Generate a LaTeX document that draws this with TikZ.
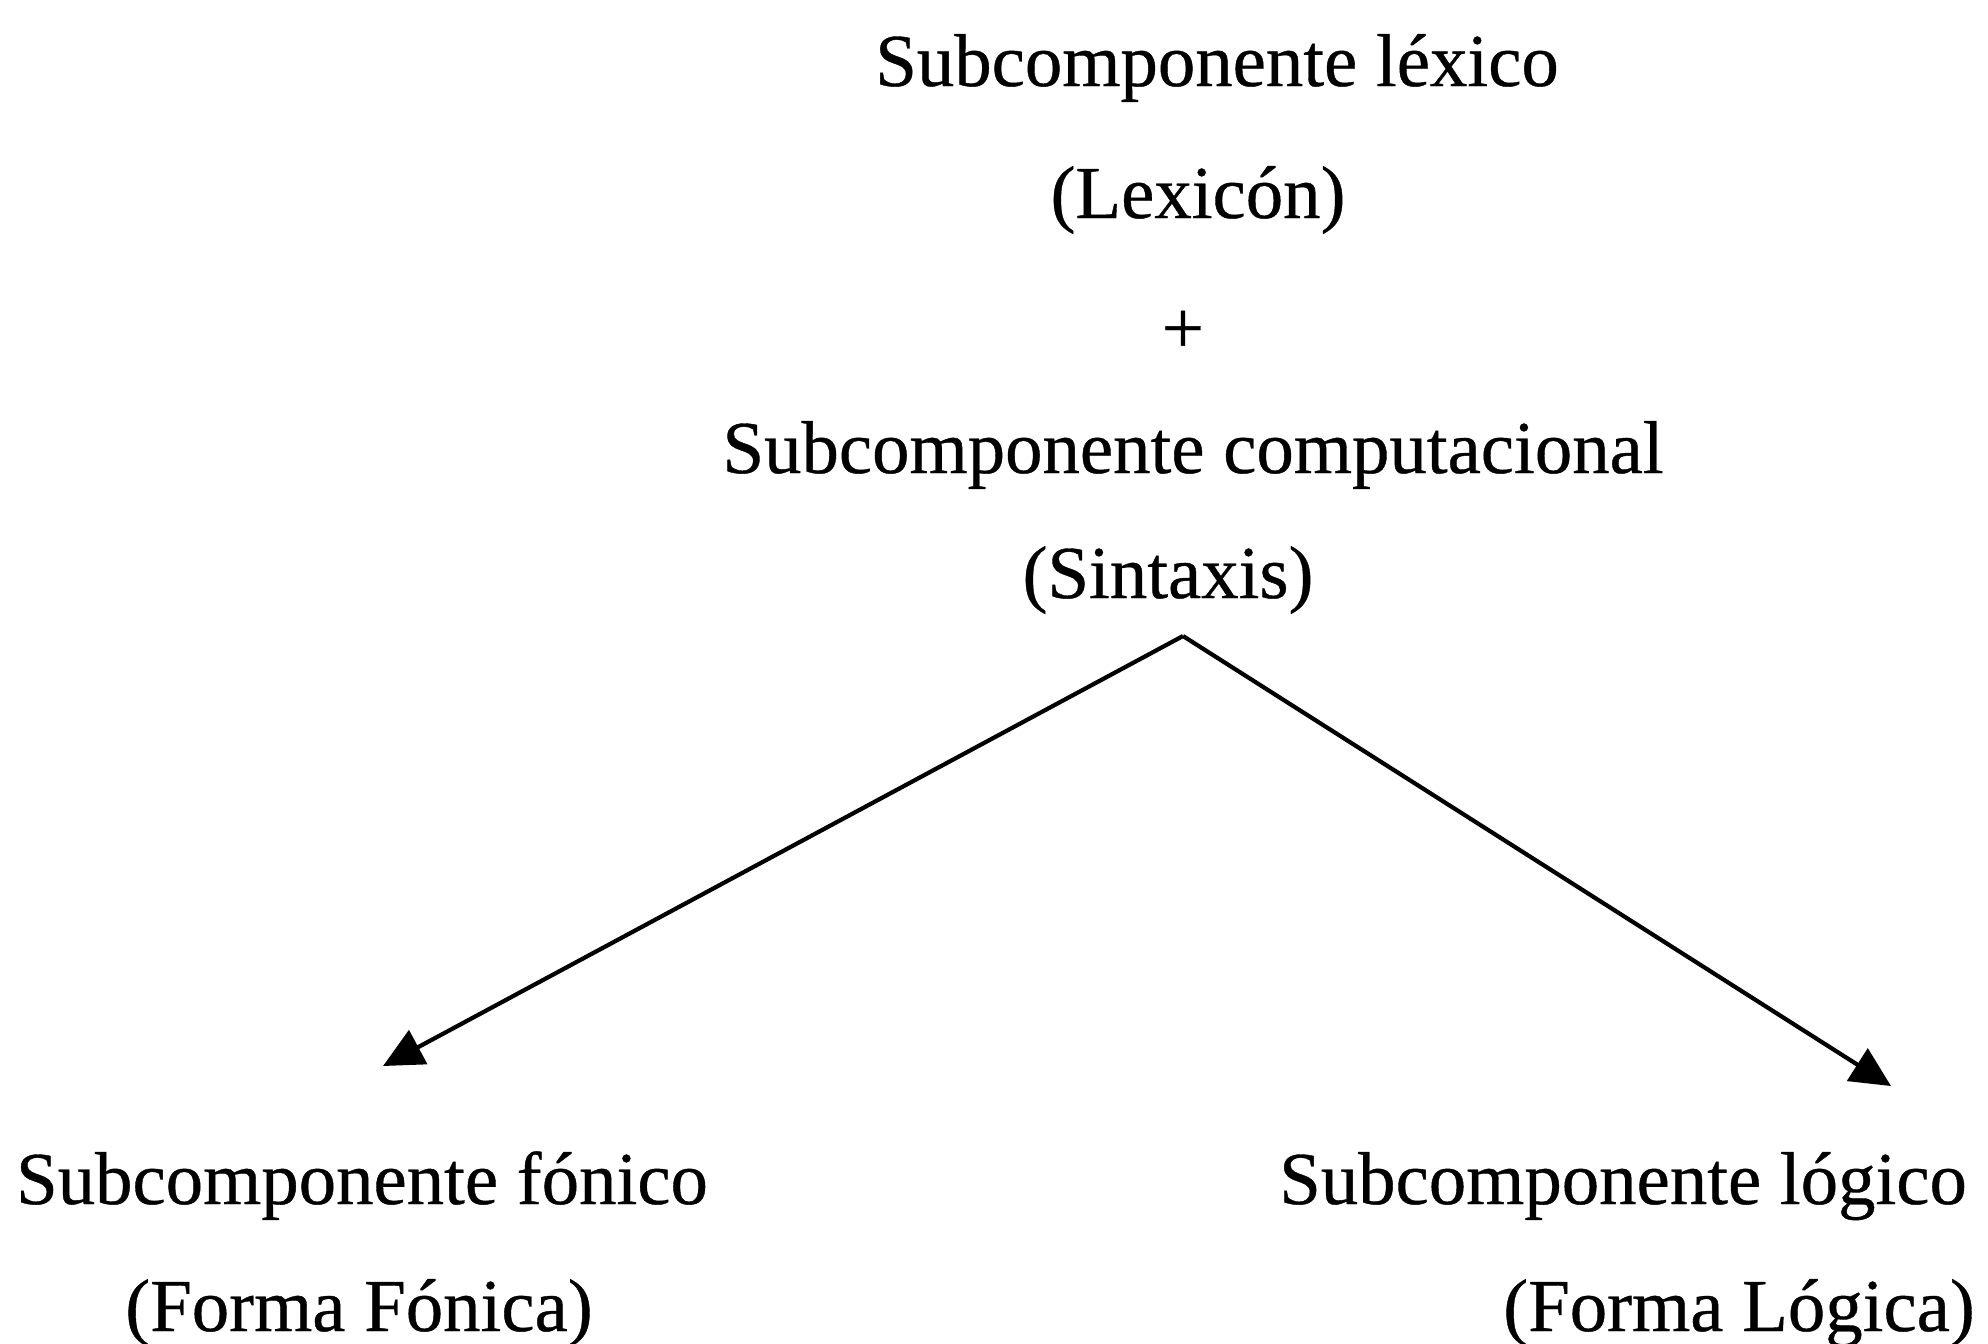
\documentclass[tikz,border=0pt]{standalone}
\usepackage{fontspec}
\setmainfont{Liberation Serif}
\newfontfamily\printfont{Liberation Serif}[FakeBold=0.5]
\usetikzlibrary{arrows.meta}
\begin{document}
\begin{tikzpicture}[x=0.25pt,y=-0.25pt,
  label/.style={anchor=base,inner sep=0pt,font=\printfont\fontsize{18.7}{22}\selectfont},
  branch/.style={line width=1.05pt,-{Triangle[length=10pt,width=9.5pt]}}]
  \useasboundingbox (0,0) rectangle (1988,1343);
  % upper stack: lexicon + syntax
  \node[label] (lex)  at (1217,86)  {Subcomponente léxico};
  \node[label] (lexn) at (1198,218) {(Lexicón)};
  \node[label] (plus) at (1183,353) {+};
  \node[label] (comp) at (1193,473) {Subcomponente computacional};
  \node[label] (sint) at (1168,598) {(Sintaxis)};
  % lower interfaces
  \node[label] (fon)  at (362,1204)  {Subcomponente fónico};
  \node[label] (ff)   at (359,1331)  {(Forma Fónica)};
  \node[label] (log)  at (1623,1204) {Subcomponente lógico};
  \node[label] (fl)   at (1739,1331) {(Forma Lógica)};
  % branching arrows
  \coordinate (apex) at (1183,636);
  \coordinate (ftip) at (383,1066);
  \coordinate (ltip) at (1891,1086);
  \draw[branch] (apex) -- (ftip);
  \draw[branch] (apex) -- (ltip);
\end{tikzpicture}
\end{document}
